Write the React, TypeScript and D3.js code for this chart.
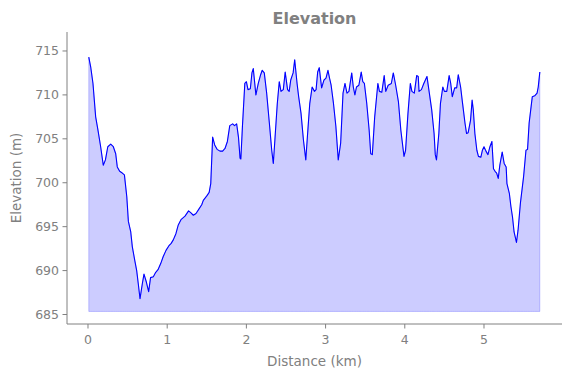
import React from "react";
import * as d3 from "d3";

const distanceKm: number[] = [
  0.01, 0.034, 0.063, 0.097, 0.126, 0.16, 0.193, 0.22, 0.25, 0.287, 0.32, 0.35, 0.37, 0.4, 0.433, 0.46, 0.49, 0.51,
  0.54, 0.56, 0.59, 0.615, 0.635, 0.657, 0.686, 0.707, 0.737, 0.766, 0.79, 0.825, 0.855, 0.884, 0.918, 0.95, 0.985,
  1.02, 1.05, 1.077, 1.11, 1.14, 1.174, 1.225, 1.27, 1.297, 1.33, 1.364, 1.4, 1.436, 1.456, 1.5, 1.53, 1.55, 1.574,
  1.6, 1.63, 1.667, 1.7, 1.73, 1.76, 1.79, 1.827, 1.85, 1.877, 1.9, 1.92, 1.93, 1.95, 1.98, 2.0, 2.02, 2.05, 2.07,
  2.087, 2.12, 2.15, 2.18, 2.2, 2.226, 2.256, 2.29, 2.32, 2.34, 2.36, 2.39, 2.415, 2.437, 2.466, 2.49, 2.52, 2.54,
  2.56, 2.59, 2.61, 2.64, 2.66, 2.69, 2.72, 2.75, 2.77, 2.8, 2.83, 2.86, 2.88, 2.9, 2.92, 2.95, 2.98, 3.005, 3.03,
  3.05, 3.07, 3.1, 3.13, 3.16, 3.19, 3.22, 3.245, 3.27, 3.295, 3.33, 3.35, 3.37, 3.39, 3.42, 3.45, 3.47, 3.49, 3.52,
  3.55, 3.57, 3.59, 3.62, 3.66, 3.68, 3.71, 3.74, 3.76, 3.79, 3.83, 3.855, 3.885, 3.92, 3.95, 3.99, 4.01, 4.04, 4.07,
  4.09, 4.12, 4.15, 4.17, 4.18, 4.21, 4.24, 4.28, 4.31, 4.34, 4.37, 4.385, 4.4, 4.43, 4.45, 4.48, 4.5, 4.53, 4.56,
  4.58, 4.6, 4.63, 4.655, 4.675, 4.705, 4.73, 4.76, 4.78, 4.8, 4.83, 4.85, 4.865, 4.885, 4.91, 4.93, 4.96, 4.98, 5.0,
  5.025, 5.05, 5.075, 5.1, 5.12, 5.14, 5.16, 5.18, 5.2, 5.23, 5.255, 5.28, 5.29, 5.32, 5.34, 5.36, 5.38, 5.41, 5.43,
  5.46, 5.5, 5.53, 5.55, 5.57, 5.59, 5.61, 5.64, 5.67, 5.685, 5.705,
];

const elevationM: number[] = [
  714.3, 713.2, 711.3, 707.5, 706.0, 704.1, 702.0, 702.6, 704.1, 704.4, 704.1, 703.3, 701.8, 701.3, 701.1, 700.9,
  698.4, 695.6, 694.4, 692.7, 691.2, 690.0, 688.5, 686.8, 688.5, 689.6, 688.7, 687.6, 689.2, 689.3, 689.8, 690.1,
  690.8, 691.6, 692.3, 692.8, 693.1, 693.5, 694.2, 695.2, 695.8, 696.2, 696.8, 696.6, 696.3, 696.5, 697.0, 697.5,
  698.0, 698.5, 698.9, 699.9, 705.2, 704.3, 703.8, 703.6, 703.6, 703.9, 704.7, 706.5, 706.7, 706.5, 706.7, 705.2,
  702.8, 702.7, 706.4, 711.3, 711.5, 710.6, 710.7, 712.5, 713.0, 710.0, 711.3, 712.3, 712.8, 712.5, 710.2, 706.8,
  703.7, 702.2, 704.9, 709.0, 711.5, 710.4, 710.6, 712.6, 710.6, 710.4, 711.7, 712.5, 714.0, 711.3, 709.8, 707.9,
  704.9, 702.6, 705.2, 709.0, 710.9, 710.4, 710.6, 712.6, 713.1, 710.8, 711.7, 711.9, 712.8, 711.9, 711.1, 709.0,
  706.4, 702.6, 704.5, 710.2, 711.3, 710.2, 710.4, 712.5, 710.9, 710.0, 710.9, 711.1, 712.6, 711.5, 711.3, 709.0,
  706.0, 703.3, 703.2, 707.5, 711.3, 710.4, 710.3, 712.2, 710.4, 711.1, 711.3, 712.5, 711.1, 709.2, 706.0, 703.0,
  703.7, 707.9, 711.3, 710.4, 710.2, 712.2, 712.1, 710.4, 710.6, 711.3, 712.1, 710.2, 708.3, 705.6, 703.2, 702.6,
  705.6, 709.0, 710.9, 710.4, 710.4, 712.2, 711.3, 709.8, 710.8, 710.8, 712.3, 710.9, 709.0, 706.8, 705.6, 705.7,
  707.1, 709.4, 708.3, 705.6, 703.7, 703.0, 702.9, 703.7, 704.1, 703.6, 703.2, 704.1, 704.7, 701.6, 701.3, 701.1,
  700.5, 702.0, 703.5, 702.2, 701.8, 699.9, 698.8, 697.3, 696.1, 694.4, 693.2, 694.6, 697.7, 700.7, 703.7, 703.8,
  706.8, 708.3, 709.8, 709.9, 710.2, 710.9, 712.6,
];

const fillBaseline = 685.35;
const xTicks: number[] = [0, 1, 2, 3, 4, 5];
const yTicks: number[] = [685, 690, 695, 700, 705, 710, 715];
const titleText = "Elevation";
const xLabelText = "Distance (km)";
const yLabelText = "Elevation (m)";

const W = 571;
const H = 378;
const left = 67;
const right = 562;
const top = 32;
const bottom = 324;
const grey = "#808080";
const font = "DejaVu Sans, sans-serif";

export default function App() {
  const x = d3.scaleLinear().domain([-0.265, 5.985]).range([left, right]);
  const y = d3.scaleLinear().domain([683.92, 717.16]).range([bottom, top]);
  const pts: [number, number][] = distanceKm.map((d, i) => [d, elevationM[i]]);
  const area = d3
    .area<[number, number]>()
    .x((d) => x(d[0]))
    .y0(() => y(fillBaseline))
    .y1((d) => y(d[1]));
  const line = d3
    .line<[number, number]>()
    .x((d) => x(d[0]))
    .y((d) => y(d[1]));

  return (
    <svg
      width={W}
      height={H}
      style={{ position: "absolute", left: 0, top: 0, background: "#fff" }}
      fontFamily={font}
    >
      <rect x={0} y={0} width={W} height={H} fill="#fff" />
      <path d={area(pts) || ""} fill="rgba(0,0,255,0.2)" stroke="rgba(0,0,255,0.2)" strokeWidth={1} />
      <path d={line(pts) || ""} fill="none" stroke="#0000ff" strokeWidth={1.1} strokeLinejoin="round" />
      <line x1={left} x2={left} y1={top} y2={bottom} stroke={grey} strokeWidth={1} />
      <line x1={left} x2={right} y1={bottom} y2={bottom} stroke={grey} strokeWidth={1} />
      {xTicks.map((t) => (
        <g key={"x" + t}>
          <line x1={x(t)} x2={x(t)} y1={bottom} y2={bottom + 4.5} stroke={grey} strokeWidth={1} />
          <text x={x(t)} y={bottom + 20} textAnchor="middle" fontSize={12.5} fill={grey}>
            {t}
          </text>
        </g>
      ))}
      {yTicks.map((t) => (
        <g key={"y" + t}>
          <line x1={left - 4.5} x2={left} y1={y(t)} y2={y(t)} stroke={grey} strokeWidth={1} />
          <text x={left - 8} y={y(t)} dy="0.36em" textAnchor="end" fontSize={12.5} fill={grey}>
            {t}
          </text>
        </g>
      ))}
      <text x={(left + right) / 2} y={366} textAnchor="middle" fontSize={13.5} fill={grey}>
        {xLabelText}
      </text>
      <text
        transform={`translate(21,${(top + bottom) / 2}) rotate(-90)`}
        textAnchor="middle"
        fontSize={13.5}
        fill={grey}
      >
        {yLabelText}
      </text>
      <text x={(left + right) / 2} y={24} textAnchor="middle" fontSize={16} fontWeight="bold" fill={grey}>
        {titleText}
      </text>
    </svg>
  );
}
